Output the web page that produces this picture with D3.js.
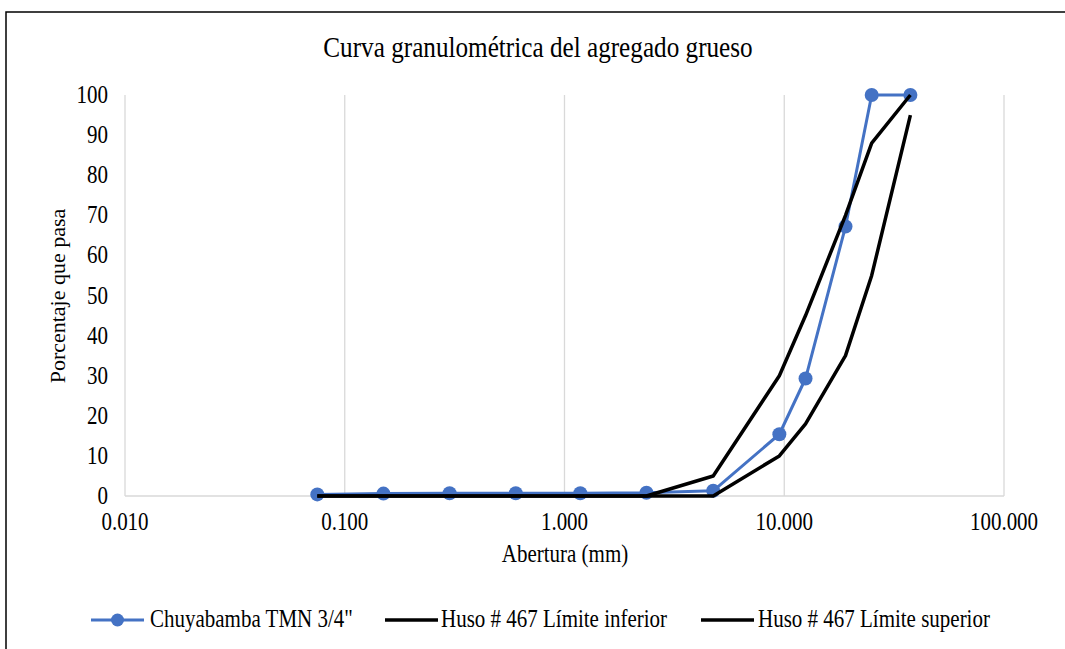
<!DOCTYPE html>
<html><head><meta charset="utf-8">
<script src="https://cdn.jsdelivr.net/npm/d3@7"></script>
<style>body{margin:0;background:#fff}svg{display:block}text{font-family:"Liberation Serif","Times New Roman",serif;fill:#000}</style>
</head><body><svg id="c" width="1065" height="649"></svg>
<script>
const sieves = [0.075, 0.15, 0.3, 0.6, 1.18, 2.36, 4.75, 9.5, 12.5, 19, 25, 37.5];
const sample = [0.4, 0.6, 0.7, 0.7, 0.7, 0.8, 1.3, 15.4, 29.3, 67.2, 100, 100];
const lowerLimit = [0, 0, 0, 0, 0, 0, 0, 10, 18, 35, 55, 95];
const upperLimit = [0, 0, 0, 0, 0, 0, 5, 30, 45, 70, 88, 100];
const xTicks = [0.01, 0.1, 1, 10, 100];
const yTicks = [0, 10, 20, 30, 40, 50, 60, 70, 80, 90, 100];
const seriesNames = ['Chuyabamba TMN 3/4"', "Huso # 467 Límite inferior", "Huso # 467 Límite superior"];

const svg = d3.select("#c");
const blue = "#4472c4";
const SY = 1.15; // vertical stretch of glyphs seen in the reference

function txt(g, x, y, s, size, anchor){
  return g.append("text").attr("transform",`translate(${x},${y}) scale(1,${SY})`)
    .attr("font-size",size).attr("text-anchor",anchor||"start").text(s);
}

// frame
svg.append("rect").attr("x",6).attr("y",12).attr("width",1080).attr("height",660)
  .attr("fill","none").attr("stroke","#000").attr("stroke-width",1.5);

const x = d3.scaleLog().domain([0.01,100]).range([125,1004]);
const y = d3.scaleLinear().domain([0,100]).range([496,95]);

// vertical gridlines
svg.append("g").selectAll("line").data(xTicks).join("line")
  .attr("x1",d=>x(d)).attr("x2",d=>x(d)).attr("y1",y(100)).attr("y2",y(0))
  .attr("stroke","#d9d9d9").attr("stroke-width",1.3);
svg.append("line").attr("x1",x(0.01)).attr("x2",x(100)).attr("y1",y(0)).attr("y2",y(0))
  .attr("stroke","#d9d9d9").attr("stroke-width",1.3);

// tick labels
const gx = svg.append("g");
xTicks.forEach(d=>txt(gx, x(d), 530, d3.format(".3f")(d), 21, "middle"));
const gy = svg.append("g");
yTicks.forEach(d=>txt(gy, 108, y(d)+8, String(d), 21, "end"));

// titles
txt(svg, 538, 57, "Curva granulométrica del agregado grueso", 25.2, "middle");
txt(svg, 565, 562, "Abertura (mm)", 21, "middle");
svg.append("text").attr("transform","translate(65,296) rotate(-90)").attr("text-anchor","middle")
  .attr("font-size",22).text("Porcentaje que pasa");

const line = d3.line().x(d=>x(d[0])).y(d=>y(d[1]));
const blueData = sieves.map((s,i)=>[s,sample[i]]);
svg.append("path").attr("d",line(blueData)).attr("fill","none").attr("stroke",blue).attr("stroke-width",3).attr("stroke-linejoin","round");
svg.append("g").selectAll("circle").data(blueData).join("circle")
  .attr("cx",d=>x(d[0])).attr("cy",d=>y(d[1])).attr("r",7).attr("fill",blue);
[lowerLimit, upperLimit].forEach(arr=>{
  svg.append("path").attr("d",line(sieves.map((s,i)=>[s,arr[i]])))
    .attr("fill","none").attr("stroke","#000").attr("stroke-width",3.5).attr("stroke-linejoin","round");
});

// legend
const leg = [{x:91,t:150,c:blue,m:true},{x:385,t:441,c:"#000",m:false},{x:701,t:758,c:"#000",m:false}];
const ly = 620;
leg.forEach((l,i)=>{
  svg.append("line").attr("x1",l.x).attr("x2",l.x+53).attr("y1",ly).attr("y2",ly)
    .attr("stroke",l.c).attr("stroke-width",l.m?3:3.5);
  if(l.m) svg.append("circle").attr("cx",l.x+26.5).attr("cy",ly).attr("r",6.5).attr("fill",blue);
  txt(svg, l.t, ly+7, seriesNames[i], 21, "start");
});
</script></body></html>
